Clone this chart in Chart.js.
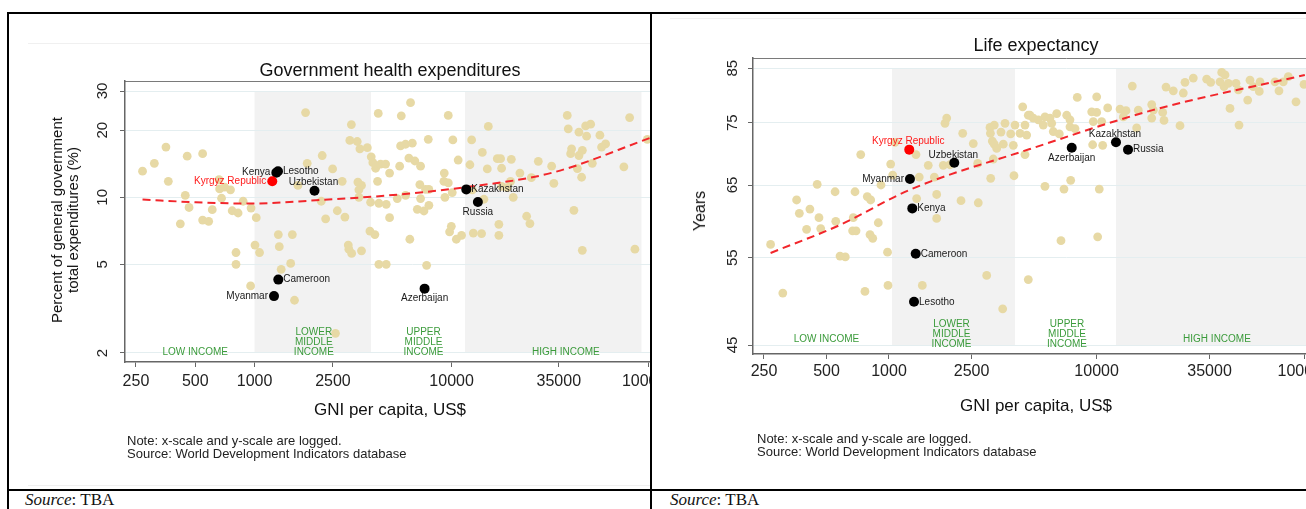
<!DOCTYPE html>
<html>
<head>
<meta charset="utf-8">
<script src="https://cdn.jsdelivr.net/npm/chart.js@4.4.1/dist/chart.umd.min.js"></script>
<style>
  body { margin: 0; width: 1306px; height: 509px; overflow: hidden; position: relative; background: #fff;
         font-family: "Liberation Sans", Arial, sans-serif; color: #111; }
  .box { position: absolute; overflow: hidden; }
  .t { position: absolute; white-space: nowrap; }
  .c { transform: translate(-50%, -50%); text-align: center; }
  .rot { transform: translate(-50%, -50%) rotate(-90deg); text-align: center; }
  .note { font-size: 13px; line-height: 13px; color: #222; }
  .src { font-family: "Liberation Serif", "Times New Roman", serif; font-size: 17px; line-height: 18px; }
  .ln { position: absolute; background: #000; }
  .faint { position: absolute; background: #f0f0f0; height: 1px; }
</style>
</head>
<body>

<div class="box" style="left:0;top:0;width:651px;height:490px"><canvas id="ghe" width="710" height="490"></canvas></div>
<div class="box" style="left:652px;top:0;width:654px;height:490px"><canvas id="life" width="740" height="490"></canvas></div>

<div class="faint" style="left:28px;top:43px;width:623px"></div>
<div class="faint" style="left:28px;top:485px;width:623px"></div>
<div class="faint" style="left:670px;top:18px;width:636px"></div>

<div class="t c" style="left:390px;top:70px;font-size:18px">Government health expenditures</div>
<div class="t rot" style="left:65px;top:220px;font-size:15px;line-height:16px">Percent of general government<br>total expenditures (%)</div>
<div class="t c" style="left:390px;top:410px;font-size:17px">GNI per capita, US$</div>
<div class="t note" style="left:127px;top:434px">Note: x-scale and y-scale are logged.<br>Source: World Development Indicators database</div>

<div class="t c" style="left:1036px;top:45px;font-size:18px">Life expectancy</div>
<div class="t rot" style="left:700px;top:211px;font-size:16px">Years</div>
<div class="t c" style="left:1036px;top:406px;font-size:17px">GNI per capita, US$</div>
<div class="t note" style="left:757px;top:432px">Note: x-scale and y-scale are logged.<br>Source: World Development Indicators database</div>

<div class="t src" style="left:25px;top:491px"><i>Source</i>: TBA</div>
<div class="t src" style="left:670px;top:491px"><i>Source</i>: TBA</div>

<div class="ln" style="left:7px;top:12px;width:1299px;height:2px"></div>
<div class="ln" style="left:7px;top:489px;width:1299px;height:2px"></div>
<div class="ln" style="left:7px;top:12px;width:2px;height:497px"></div>
<div class="ln" style="left:650px;top:12px;width:2px;height:497px"></div>

<script>
// shared
const xTicks = [250, 500, 1000, 2500, 10000, 35000, 100000];
const incomeGroups = [["LOW INCOME"], ["LOWER", "MIDDLE", "INCOME"], ["UPPER", "MIDDLE", "INCOME"], ["HIGH INCOME"]];
const incomeLabelGni = [500, 2000, 7200, 38000];

// government health expenditures, % of total government expenditures
const gheTicksY = [2, 5, 10, 20, 30];
const gheBands = [1000, 3900, 11700, 92000];
const gheGni = [270, 310, 355, 365, 420, 445, 455, 465, 545, 545, 585, 610, 660, 665, 680, 705, 755, 770, 805, 805,
  825, 875, 955, 960, 1005, 1020, 1060, 1320, 1335, 1365, 1525, 1555, 1595, 1660, 1815, 1850, 2205, 2180, 2295, 2490,
  2575, 2630, 2785, 2875, 2990, 3010, 3100, 3045, 3110, 3320, 3345, 3425, 3490, 3385, 3385, 3490, 3735, 3910, 3880, 3850,
  3985, 4080, 4115, 4245, 4210, 4275, 4360, 4625, 4275, 4660, 4660, 4845, 4845, 6190, 5555, 9620, 15360, 38650, 80100, 39100,
  44300, 47900, 50800, 48450, 56600, 98500, 7615, 10150, 12640, 5510, 5840, 6320, 14320, 60500, 57700, 40650, 46100, 40200,
  44300, 51800, 74900, 43500, 45700, 6070, 6510, 6960, 5450, 10800, 17060, 17730, 20100, 27550, 12390, 15180, 17940, 22220,
  25400, 32200, 33040, 9180, 9140, 9620, 6900, 7380, 10080, 9250, 7670, 5840, 5300, 6960, 6700, 7240, 7670, 12740,
  14590, 20560, 19170, 19930, 17940, 41770, 24040, 24980, 17380, 9970, 9770, 11240, 10570, 12890, 14200, 17380, 6140, 46080,
  85200, 7470];
const gheShare = [13.1, 14.2, 16.8, 11.8, 7.6, 10.2, 15.3, 9.0, 15.7, 7.9, 7.8, 8.8, 12.0, 10.9, 9.9, 11.1, 10.8, 8.7, 5.65, 5.0,
  8.5, 9.6, 4.0, 8.95, 6.1, 8.1, 5.65, 6.8, 6.0, 4.75, 5.05, 6.8, 3.45, 11.3, 24.0, 14.2, 15.4, 9.6, 8.0, 13.4,
  2.45, 8.7, 11.8, 8.15, 6.1, 5.85, 21.2, 18.0, 5.6, 17.8, 11.7, 16.5, 11.3, 10.8, 10.0, 5.75, 16.7, 15.2, 9.5, 7.05,
  14.3, 6.8, 13.5, 23.8, 11.8, 9.4, 14.1, 14.1, 5.0, 5.0, 9.3, 12.85, 8.1, 26.6, 23.2, 23.3, 20.8, 23.3, 22.8, 20.3,
  19.6, 20.9, 21.3, 18.8, 19.0, 18.2, 18.2, 18.1, 18.1, 17.0, 17.3, 17.5, 15.9, 17.35, 16.8, 16.5, 16.25, 15.7,
  15.4, 14.2, 13.7, 13.45, 12.3, 15.0, 14.55, 13.8, 13.8, 14.7, 14.9, 14.9, 14.8, 14.5, 14.0, 13.4, 13.5, 12.85,
  12.25, 13.8, 11.55, 12.85, 11.8, 11.6, 11.4, 10.85, 10.5, 10.0, 10.85, 10.2, 9.87, 9.87, 8.83, 8.68, 9.2, 10.8,
  9.8, 10.0, 11.05, 11.8, 11.2, 8.74, 8.22, 7.62, 7.56, 7.41, 7.0, 6.75, 6.48, 6.91, 6.87, 6.75, 6.48, 5.78,
  5.85, 4.95];
const gheNames = ["Kenya", "Lesotho", "Kyrgyz Republic", "Uzbekistan", "Cameroon", "Myanmar", "Kazakhstan", "Russia", "Azerbaijan"];
const gheNamedGni = [1290, 1315, 1230, 2015, 1320, 1255, 11875, 13600, 7295];
const gheNamedShare = [12.9, 13.1, 11.8, 10.7, 4.27, 3.6, 10.85, 9.53, 3.89];
const gheFitGni = [270, 502, 932, 2040, 4800, 11800, 32500, 104000];
const gheFitShare = [9.77, 9.5, 9.37, 9.69, 10.2, 11.1, 12.9, 18.6];

// life expectancy, years
const lifeTicksY = [45, 55, 65, 75, 85];
const lifeBands = [1034, 4046, 12400, 110000];
const lifeGni = [269, 308, 359, 370, 401, 416, 451, 460, 469, 550, 554, 581, 616, 668, 686, 694, 673, 731, 766, 786,
  816, 810, 835, 888, 915, 984, 989, 1019, 1042, 1069, 1349, 1399, 1359, 1447, 1546, 1653, 1697, 1697, 1826, 1861,
  1897, 1967, 2223, 2265, 2547, 2692, 2675, 2955, 3065, 3080, 3145, 3090, 3215, 3302, 3463, 3553, 3529, 3621, 3857, 3970,
  4000, 4046, 4276, 4406, 4519, 4605, 4688, 4688, 4519, 3180, 3215, 4778, 4955, 5239, 5536, 5641, 5964, 6077, 6186, 6424,
  6611, 7178, 7444, 7444, 7870, 8072, 10010, 10010, 9640, 10580, 11310, 9572, 10700, 12970, 13450, 13860, 14860, 15880, 15600, 18430,
  18760, 20820, 21120, 21600, 23420, 25220, 26160, 26660, 29230, 33910, 35450, 40060, 41100, 43100, 43920, 46940, 48150, 48530,
  53440, 54820, 60770, 61250, 72340, 75600, 79300, 91300, 99800, 5641, 6966, 7502, 10300, 6737, 10120, 9472, 18430, 39300,
  41550, 56860, 83830];
const lifeYears = [56.7, 50.7, 62.8, 60.9, 58.7, 61.5, 65.1, 60.3, 58.8, 64.0, 59.8, 55.2, 55.1, 58.5, 64.0, 58.5, 60.3, 69.7, 50.9, 63.3,
  62.8, 58.0, 57.5, 59.6, 65.0, 55.7, 51.6, 68.2, 66.5, 71.7, 69.7, 66.2, 63.0, 51.6, 68.0, 66.2, 63.6, 60.2, 68.0, 74.9,
  75.8, 68.1, 62.7, 73.2, 71.5, 62.4, 68.3, 52.8, 74.2, 73.2, 71.9, 66.0, 71.4, 70.7, 73.4, 71.4, 48.9, 74.9, 73.1, 71.2,
  66.4, 74.6, 73.2, 77.8, 74.6, 72.9, 76.3, 52.3, 69.7, 69.0, 74.6, 76.3, 75.8, 75.5, 74.6, 76.0, 75.8, 74.9, 73.5, 76.6,
  73.1, 76.3, 75.5, 74.3, 74.0, 79.5, 79.6, 76.8, 75.2, 75.2, 77.6, 71.3, 71.2, 77.4, 76.0, 77.1, 81.6, 77.2, 74.1, 78.2,
  77.2, 76.8, 75.4, 81.4, 80.7, 74.5, 80.3, 82.3, 83.1, 82.9, 82.3, 84.2, 81.5, 82.1, 77.5, 82.1, 80.9, 74.6,
  79.0, 82.7, 80.6, 82.4, 82.4, 80.7, 82.4, 78.7, 81.9, 64.8, 64.4, 65.7, 64.4, 57.2, 57.7, 76.9, 75.8, 82.4,
  83.7, 81.5, 83.4];
const lifeNames = ["Kyrgyz Republic", "Uzbekistan", "Myanmar", "Kenya", "Cameroon", "Lesotho", "Kazakhstan", "Russia", "Azerbaijan"];
const lifeNamedGni = [1252, 2063, 1262, 1295, 1345, 1320, 12400, 14170, 7590];
const lifeNamedYears = [70.5, 68.4, 65.9, 61.6, 55.5, 49.7, 71.7, 70.5, 70.8];
const lifeFitGni = [269, 581, 1262, 4770, 18600, 100700];
const lifeFitYears = [55.6, 59.3, 64.3, 70.6, 77.2, 83.7];

Chart.defaults.font.family = '"Liberation Sans", Arial, sans-serif';

const FONT = '"Liberation Sans", Arial, sans-serif';
const BEIGE = "#e7d9a5";
const GREEN = "#3b9b3b";
const AXIS = "#666";

function pairs(xs, ys) {
  return xs.map((x, i) => ({ x: x, y: ys[i] }));
}

function drawPanel(id, s) {
  const decor = {
    id: "decor",
    beforeDraw(chart) {
      const { ctx, chartArea: a, scales: { x, y } } = chart;
      const top = y.getPixelForValue(s.bandY[1]);
      const bot = y.getPixelForValue(s.bandY[0]);
      ctx.save();
      ctx.fillStyle = "#f2f2f2";
      [[s.bands[0], s.bands[1]], [s.bands[2], s.bands[3]]].forEach(([b0, b1]) => {
        const x0 = x.getPixelForValue(b0), x1 = x.getPixelForValue(b1);
        ctx.fillRect(x0, top, x1 - x0, bot - top);
      });
      // top frame
      ctx.strokeStyle = "#7a7a7a";
      ctx.lineWidth = 1;
      ctx.beginPath();
      ctx.moveTo(a.left, a.top + 0.5);
      ctx.lineTo(a.right, a.top + 0.5);
      ctx.stroke();
      ctx.restore();
    },
    afterDraw(chart) {
      const { ctx, chartArea: a, scales: { x, y } } = chart;
      ctx.save();
      // rotated y tick labels
      ctx.font = "15px " + FONT;
      ctx.fillStyle = "#222";
      ctx.textAlign = "center";
      ctx.textBaseline = "middle";
      s.yTicks.forEach(v => {
        ctx.save();
        ctx.translate(a.left - s.yLabelGap, y.getPixelForValue(v));
        ctx.rotate(-Math.PI / 2);
        ctx.fillText(String(v), 0, 0);
        ctx.restore();
      });
      // income group labels
      ctx.font = "10px " + FONT;
      ctx.fillStyle = GREEN;
      const yb = y.getPixelForValue(s.bandY[0]) - 1;
      incomeGroups.forEach((lines, i) => {
        const px = x.getPixelForValue(incomeLabelGni[i]);
        const lift = lines.length === 1 ? s.singleLift : 0;
        lines.forEach((t, j) => ctx.fillText(t, px, yb - lift - (lines.length - 1 - j) * 9.8));
      });
      // country labels
      const meta = chart.getDatasetMeta(0);
      ctx.font = "10px " + FONT;
      meta.data.forEach((pt, i) => {
        const name = s.names[i];
        ctx.fillStyle = name === "Kyrgyz Republic" ? "#ff1a1a" : "#1a1a1a";
        const pos = s.labelPos[i];
        if (pos === "left") { ctx.textAlign = "right"; ctx.fillText(name, pt.x - 6, pt.y); }
        else if (pos === "right") { ctx.textAlign = "left"; ctx.fillText(name, pt.x + 5, pt.y); }
        else if (pos === "above") { ctx.textAlign = "center"; ctx.fillText(name, pt.x - 1, pt.y - 8); }
        else { ctx.textAlign = "center"; ctx.fillText(name, pt.x, pt.y + 10); }
      });
      ctx.restore();
    }
  };

  return new Chart(document.getElementById(id), {
    type: "scatter",
    data: {
      datasets: [
        {
          data: pairs(s.namedX, s.namedY),
          pointRadius: 5,
          pointBorderWidth: 0,
          backgroundColor: s.names.map(n => n === "Kyrgyz Republic" ? "#ff0000" : "#000"),
          order: 0
        },
        {
          data: pairs(s.fitX, s.fitY),
          showLine: true,
          pointRadius: 0,
          borderColor: "#f2262b",
          borderWidth: 2,
          borderDash: [8, 5],
          cubicInterpolationMode: "monotone",
          order: 1
        },
        {
          data: pairs(s.ptsX, s.ptsY),
          pointRadius: 4.4,
          pointBorderWidth: 0,
          backgroundColor: BEIGE,
          order: 2
        }
      ]
    },
    options: {
      responsive: false,
      animation: false,
      events: [],
      layout: { padding: s.pad },
      plugins: { legend: { display: false }, tooltip: { enabled: false } },
      scales: {
        x: {
          type: "logarithmic",
          min: s.xMin,
          max: s.xMax,
          afterBuildTicks: sc => { sc.ticks = xTicks.map(v => ({ value: v })); },
          afterFit: sc => { sc.height = 40; sc.paddingLeft = 0; sc.paddingRight = 0; },
          ticks: {
            autoSkip: false, maxRotation: 0, minRotation: 0,
            padding: s.xTickPad, color: "#222", font: { size: 16 },
            callback: v => String(v)
          },
          grid: { drawOnChartArea: false, drawTicks: true, tickLength: 5, tickColor: AXIS },
          border: { color: AXIS, width: 1.5 }
        },
        y: {
          type: "logarithmic",
          min: s.yMin,
          max: s.yMax,
          afterBuildTicks: sc => { sc.ticks = s.yTicks.map(v => ({ value: v })); },
          afterFit: sc => { sc.width = s.yAxisW; },
          ticks: { display: false },
          grid: { color: "#e4eef0", lineWidth: 1, drawTicks: true, tickLength: 5, tickColor: AXIS },
          border: { color: AXIS, width: 1.5 }
        }
      }
    },
    plugins: [decor]
  });
}

drawPanel("ghe", {
  xMin: 220, xMax: 180200, yMin: 1.822, yMax: 33.27,
  yTicks: gheTicksY, bands: gheBands, bandY: [2, 30],
  ptsX: gheGni, ptsY: gheShare,
  names: gheNames, namedX: gheNamedGni, namedY: gheNamedShare,
  labelPos: ["left", "right", "left", "above", "right", "left", "right", "below", "below"],
  fitX: gheFitGni, fitY: gheFitShare,
  pad: { left: 0, top: 81, right: 11, bottom: 88 },
  yAxisW: 125, xTickPad: 5, yLabelGap: 22, singleLift: 0
});

drawPanel("life", {
  xMin: 221.3, xMax: 231800, yMin: 44.08, yMax: 87.03,
  yTicks: lifeTicksY, bands: lifeBands, bandY: [45, 85],
  ptsX: lifeGni, ptsY: lifeYears,
  names: lifeNames, namedX: lifeNamedGni, namedY: lifeNamedYears,
  labelPos: ["above", "above", "left", "right", "right", "right", "above", "right", "below"],
  fitX: lifeFitGni, fitY: lifeFitYears,
  pad: { left: 0, top: 58, right: 12, bottom: 96 },
  yAxisW: 101, xTickPad: 3, yLabelGap: 20, singleLift: 5
});
</script>
</body>
</html>
